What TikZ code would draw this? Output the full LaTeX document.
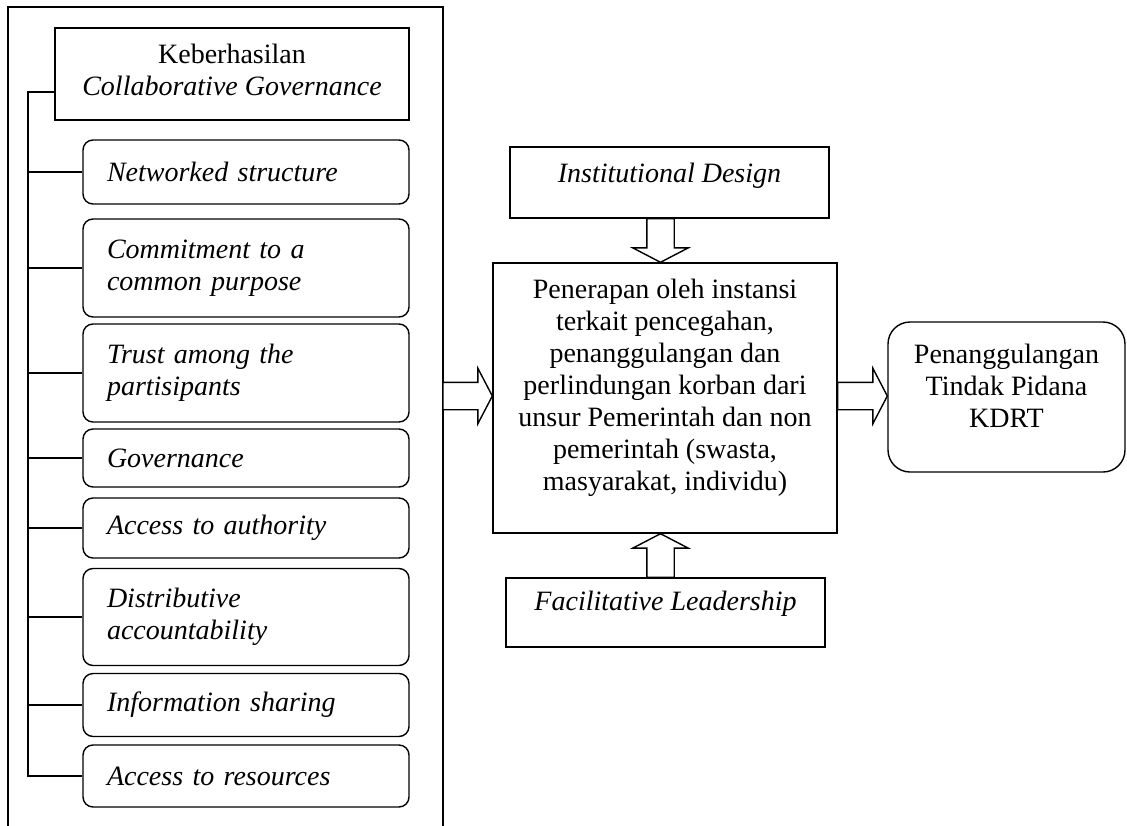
\documentclass[tikz,border=0pt]{standalone}
\usepackage{fontspec}
\setmainfont{Liberation Serif}
\usetikzlibrary{shapes.arrows,calc}
\newcommand{\fs}{\fontsize{28}{32}\selectfont}
\newcommand{\liftlines}[2]{\raisebox{#1}[\height][\depth]{\begin{tabular}{@{}c@{}}#2\end{tabular}}}
\newcommand{\blockarrow}[3]{\path let \p1=(#1), \p2=(#2), \n1={veclen(\x2-\x1,\y2-\y1)}, \n2={atan2(\y2-\y1,\x2-\x1)} in node[blk, minimum height=\n1, rotate=\n2, anchor=tail] (#3) at (\p1) {};}
\tikzset{
  lw/.style={line width=1.4pt},
  box/.style={draw, lw, inner sep=0pt, align=center, font=\fs},
  item/.style={draw, lw, rounded corners=10pt, minimum width=326pt, text width=278pt, align=left, inner xsep=24pt, inner ysep=0pt, font=\fs\itshape},
  rbox/.style={draw, lw, rounded corners=22pt, inner sep=0pt, align=center, font=\fs},
  conn/.style={lw},
  blk/.style={draw, lw, fill=white, single arrow, single arrow head extend=14pt, single arrow tip angle=125, inner xsep=0pt, inner ysep=13pt, outer sep=0pt},
}
\begin{document}
\begin{tikzpicture}[x=1pt,y=-1pt]
\useasboundingbox (0,0) rectangle (1127,825);
% outer frame
\draw[conn] (8,830) -- (8,7) -- (443,7) -- (443,830);
\coordinate (fr) at (443,396);
% header
\node[box, minimum width=354pt, minimum height=92pt] (hdr) at (232,74) {\liftlines{1pt}{Keberhasilan\\\textit{Collaborative Governance}}};
% items
\node[item, minimum height=64pt] (ns) at (246,172) {Networked structure};
\node[item, minimum height=98pt] (cp) at (246,268) {Commitment to a\\common purpose};
\node[item, minimum height=98pt] (tp) at (246,373) {Trust among the\\partisipants};
\node[item, minimum height=58pt] (gv) at (246,458) {Governance};
\node[item, minimum height=60pt] (aa) at (246,528) {Access to authority};
\node[item, minimum height=97pt] (da) at (246,617) {Distributive\\accountability};
\node[item, minimum height=63pt] (is) at (246,705) {Information sharing};
\node[item, minimum height=62pt] (ar) at (246,776) {Access to resources};
% trunk
\coordinate (t0) at (28,92);
\draw[conn] (hdr.west |- t0) -- (t0) -- (ar.west -| t0) -- (ar.west);
\foreach \b in {ns,cp,tp,gv,aa,da,is} \draw[conn] (\b.west -| t0) -- (\b.west);
% middle column
\node[box, minimum width=319pt, minimum height=71pt] (id) at (669.5,182.5) {\raisebox{7pt}[\height][\depth]{\textit{Institutional Design}}};
\node[box, minimum width=344pt, minimum height=270pt] (mid) at (665,398) {\liftlines{10pt}{Penerapan oleh instansi\\terkait pencegahan,\\penanggulangan dan\\perlindungan korban dari\\unsur Pemerintah dan non\\pemerintah (swasta,\\masyarakat, individu)}};
\node[box, minimum width=319pt, minimum height=69pt] (fl) at (665.5,612.5) {\raisebox{9pt}[\height][\depth]{\textit{Facilitative Leadership}}};
\node[rbox, minimum width=237pt, minimum height=150pt] (res) at (1006.5,397) {\liftlines{8pt}{Penanggulangan\\Tindak Pidana\\KDRT}};
% block arrows
\coordinate (ax) at ($(id.south)+(-9,0)$);
\blockarrow{ax}{mid.north -| ax}{a1}
\blockarrow{fl.north -| ax}{mid.south -| ax}{a2}
\blockarrow{fr}{mid.west |- fr}{a3}
\blockarrow{mid.east |- fr}{res.west |- fr}{a4}
\end{tikzpicture}
\end{document}
